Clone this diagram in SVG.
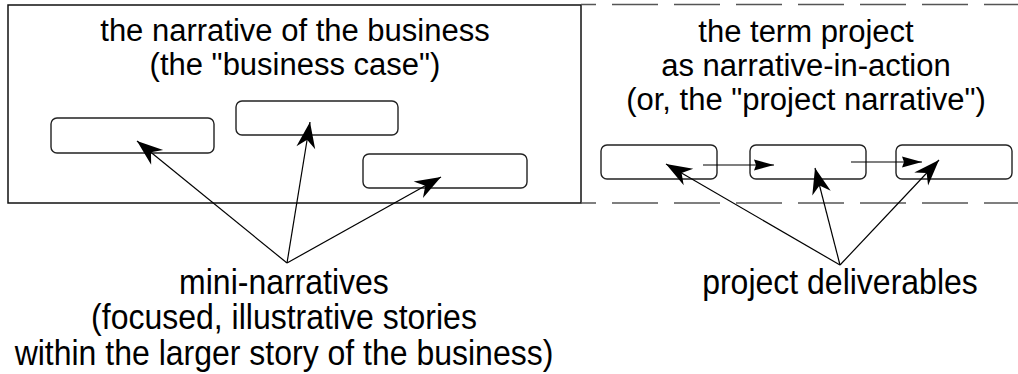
<svg xmlns="http://www.w3.org/2000/svg" width="1018" height="374" viewBox="0 0 1018 374">
<defs>
<style>
.t{font-family:"Liberation Sans",Arial,sans-serif;font-size:31px;fill:#000;text-anchor:middle}
.b{font-size:32px}
.box{fill:#fff;stroke:#222;stroke-width:1.4}
.frame{fill:none;stroke:#111;stroke-width:1.5}
.dash{fill:none;stroke:#555;stroke-width:1.5;stroke-dasharray:46 16;stroke-dashoffset:31}
.ln{fill:none;stroke:#000;stroke-width:1.2}
</style>
<marker id="big" markerUnits="userSpaceOnUse" viewBox="-27 -11 28 22" refX="0" refY="0" markerWidth="28" markerHeight="22" orient="auto">
<path d="M0,0 L-26,-9.5 L-18,0 L-26,9.5 Z" fill="#000"/>
</marker>
<marker id="small" markerUnits="userSpaceOnUse" viewBox="-21 -7 22 14" refX="0" refY="0" markerWidth="22" markerHeight="14" orient="auto">
<path d="M0,0 L-20,-5.5 L-18,0 L-20,5.5 Z" fill="#000"/>
</marker>
</defs>
<rect width="1018" height="374" fill="#fff"/>
<g id="business">
<rect class="frame" x="8" y="5" width="573" height="198"/>
<text class="t" x="295" y="41">the narrative of the business</text>
<text class="t" x="295" y="75">(the "business case")</text>
</g>
<g id="project">
<path class="dash" d="M581,4.5 H1018 M581,203 H1018"/>
<text class="t" x="806" y="42">the term project</text>
<text class="t" x="806" y="76">as narrative-in-action</text>
<text class="t" x="806" y="110">(or, the "project narrative")</text>
</g>
<g id="mini1"><rect class="box" x="51" y="118" width="163" height="35" rx="6"/></g>
<g id="mini2"><rect class="box" x="236" y="101" width="162" height="34" rx="6"/></g>
<g id="mini3"><rect class="box" x="363" y="154" width="164" height="34" rx="6"/></g>
<g id="deliv1"><rect class="box" x="601" y="145" width="116" height="34" rx="6"/></g>
<g id="deliv2"><rect class="box" x="750" y="145" width="116" height="34" rx="6"/></g>
<g id="deliv3"><rect class="box" x="896" y="145" width="116" height="34" rx="6"/></g>
<g id="connectors">
<line class="ln" x1="287" y1="263" x2="137" y2="141" marker-end="url(#big)"/>
<line class="ln" x1="287" y1="263" x2="310" y2="122" marker-end="url(#big)"/>
<line class="ln" x1="287" y1="263" x2="441" y2="177" marker-end="url(#big)"/>
<line class="ln" x1="840" y1="265" x2="666" y2="164" marker-end="url(#big)"/>
<line class="ln" x1="840" y1="265" x2="815" y2="168" marker-end="url(#big)"/>
<line class="ln" x1="840" y1="265" x2="939" y2="160" marker-end="url(#big)"/>
<line class="ln" x1="703" y1="165" x2="774" y2="165" marker-end="url(#small)"/>
<line class="ln" x1="851" y1="162" x2="922" y2="162" marker-end="url(#small)"/>
</g>
<g id="mini-label" transform="scale(1,1.1)">
<text class="t b" x="284" y="267.3">mini-narratives</text>
<text class="t b" x="284" y="299.5">(focused, illustrative stories</text>
<text class="t b" x="284" y="331.6">within the larger story of the business)</text>
</g>
<g id="deliv-label" transform="scale(1,1.1)">
<text class="t b" x="840" y="267.3">project deliverables</text>
</g>
</svg>
